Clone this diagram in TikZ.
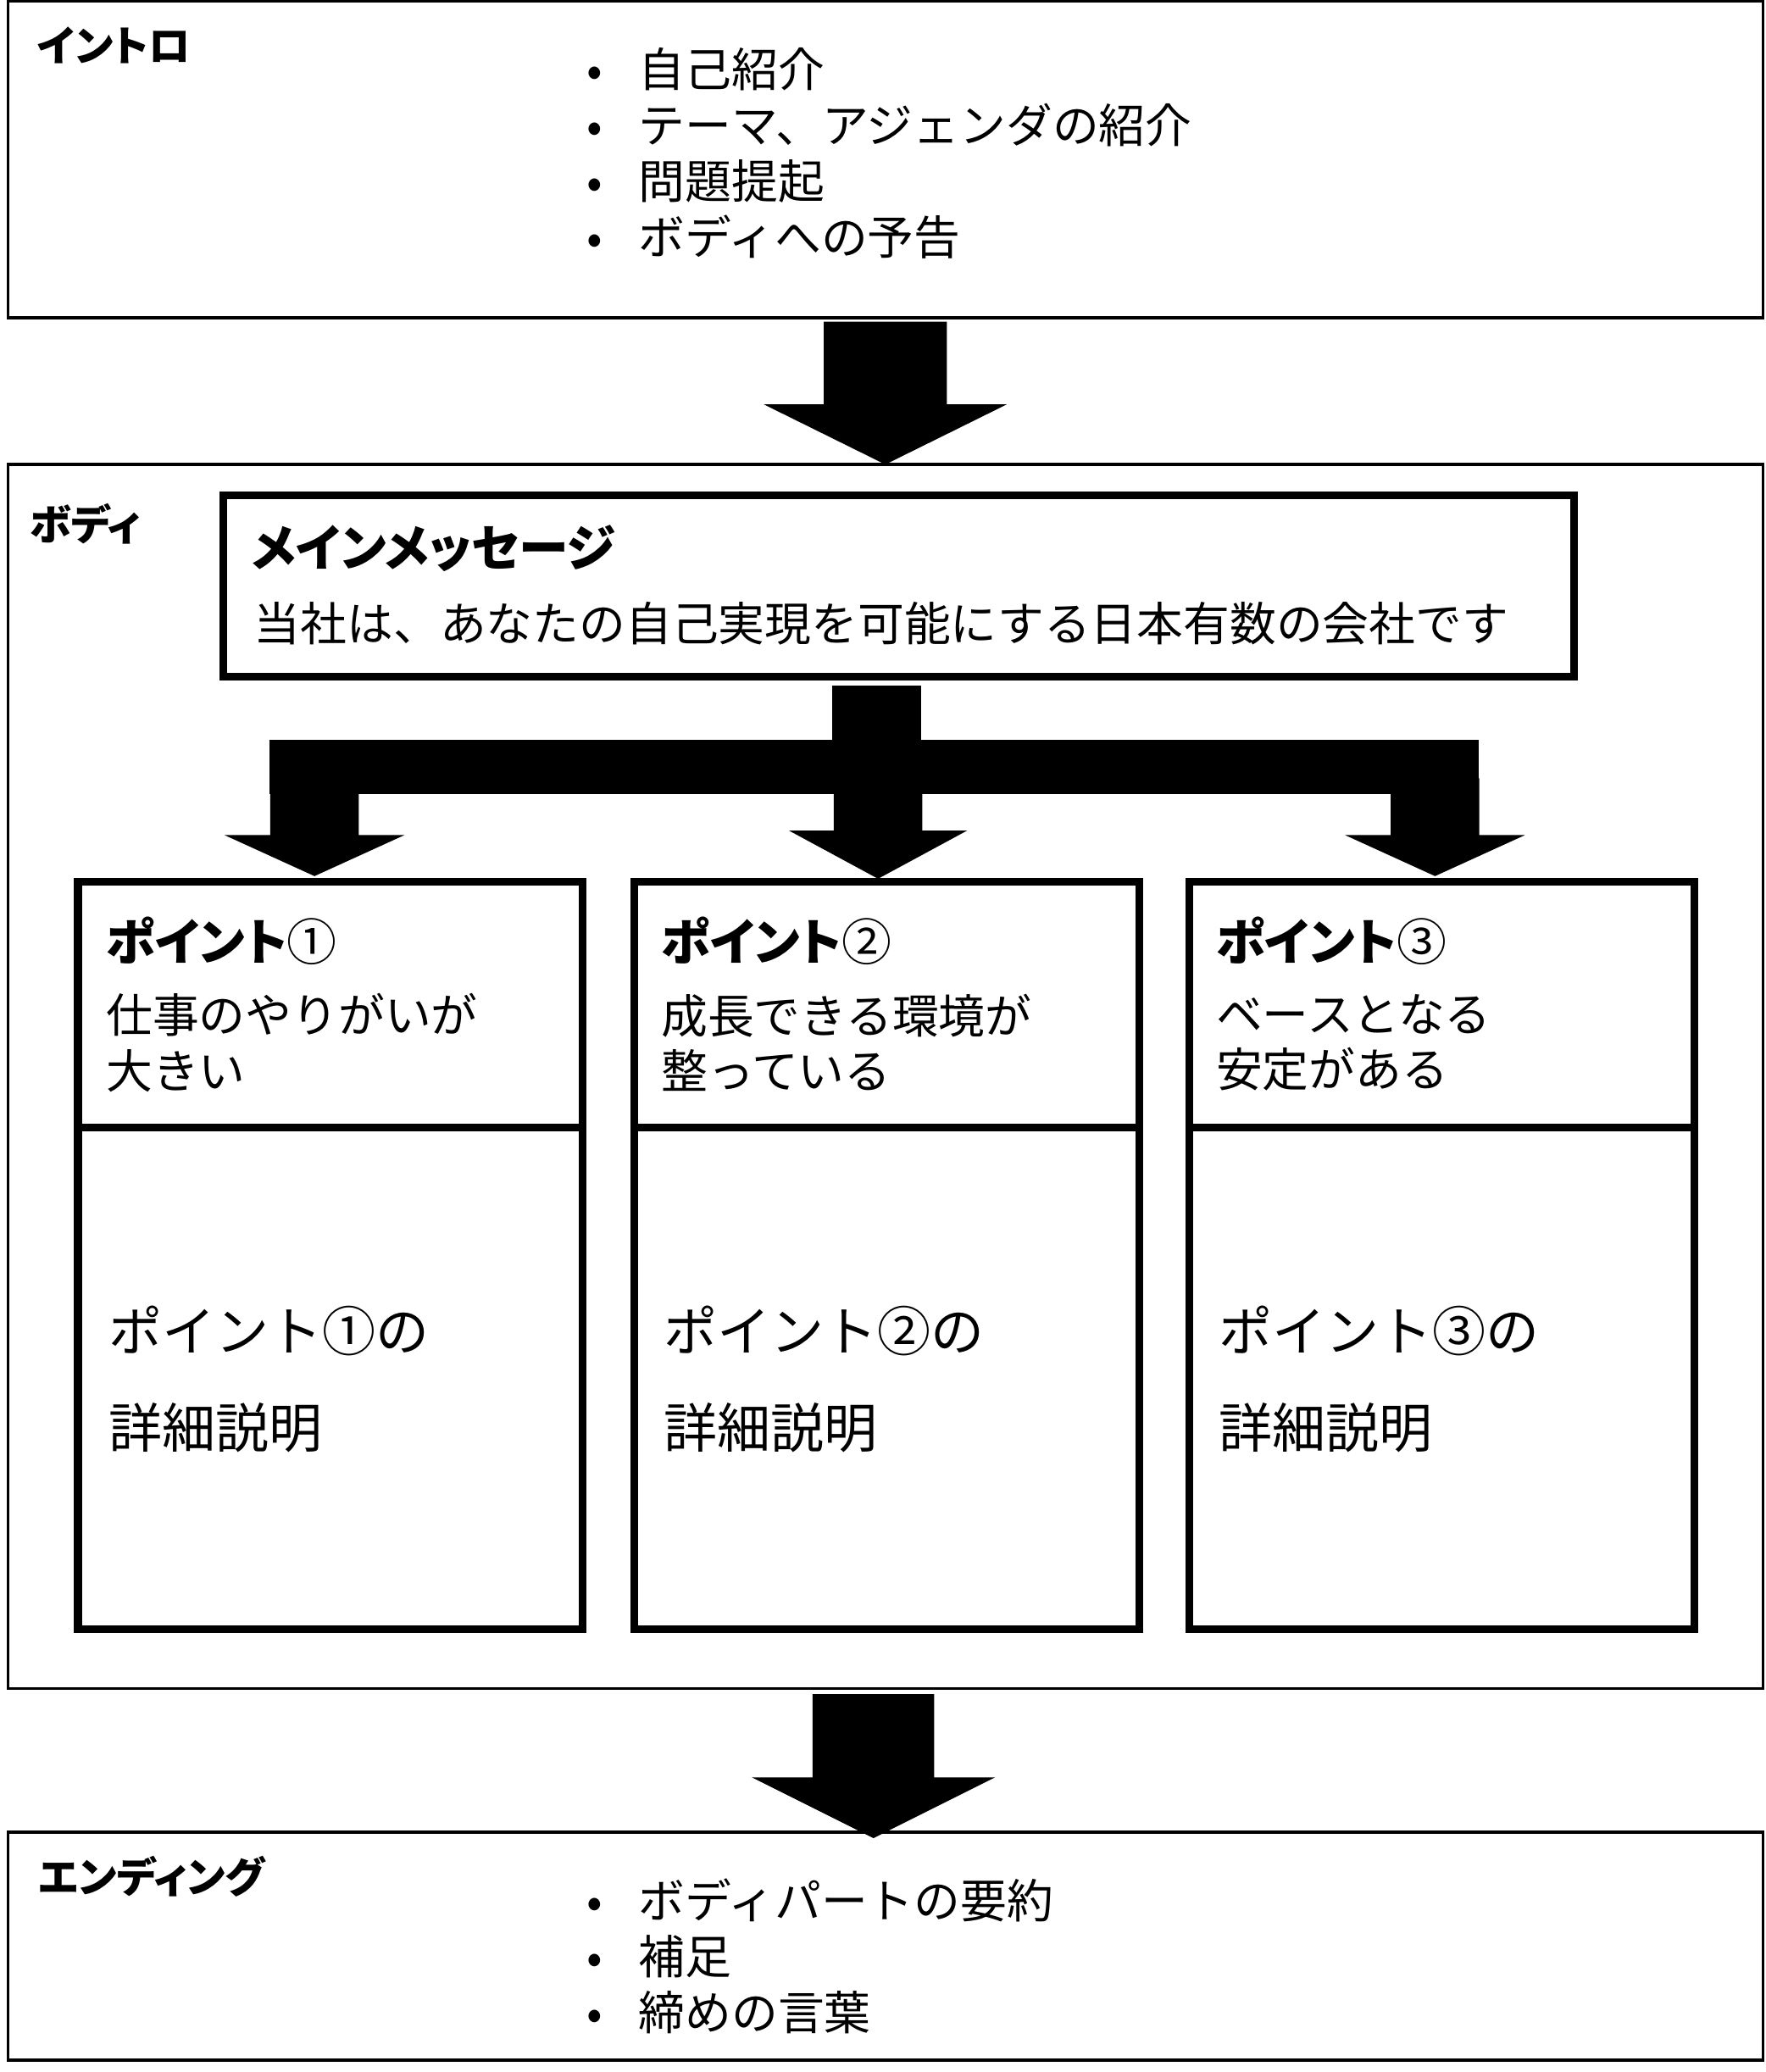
\documentclass[tikz,border=0pt]{standalone}
\usepackage{fontspec}
\setmainfont{Noto Sans CJK JP}
\newfontfamily\midasi[RawFeature=+palt]{Noto Sans CJK JP}
\usetikzlibrary{positioning,calc}

% ブロック矢印: 始点, 先端, 軸の半幅, 頭の半幅, 頭の長さ
\newcommand{\blockarrow}[5]{%
  \fill ($(#1)+(-#3,0)$) -- ($(#2)+(-#3,#5)$) -- ($(#2)+(-#4,#5)$) -- (#2)
    -- ($(#2)+(#4,#5)$) -- ($(#2)+(#3,#5)$) -- ($(#1)+(#3,0)$) -- cycle;}
\newcommand{\bul}{\llap{\makebox[1.32cm][c]{•}}}

\begin{document}
\begin{tikzpicture}[
  secbox/.style={draw, line width=1.2pt, inner sep=0pt, outer sep=0pt, minimum width=26.56cm},
  thickbox/.style={draw, line width=3.3pt, inner sep=0pt, outer sep=0pt},
  ptbox/.style={thickbox, minimum width=7.64cm},
  seclabel/.style={anchor=west, inner sep=0pt, font=\midasi\bfseries\fontsize{18}{20}\selectfont},
  headlabel/.style={anchor=west, inner sep=0pt, font=\midasi\bfseries\fontsize{21.5}{26}\selectfont},
  bodytext/.style={anchor=west, inner sep=0pt, align=left, font=\fontsize{20}{24}\selectfont},
  detail/.style={anchor=west, inner sep=0pt, align=left, font=\fontsize{23}{41.5}\selectfont}]
  \useasboundingbox (0,0) rectangle (26.72,-31.36);

  % 三つの枠
  \node[secbox, minimum height=4.79cm] (intro) at (13.40,-2.415) {};
  \node[secbox, minimum height=18.53cm] (body) at (13.40,-16.295) {};
  \node[secbox, minimum height=3.45cm] (ending) at (13.40,-29.455) {};

  % イントロ
  \node[seclabel] (introlbl) at (0.56,-0.68) {イントロ};
  \node[bodytext] (introlist) at (9.66,-2.32)
    {\bul 自己紹介\\ \bul テーマ、アジェンダの紹介\\ \bul 問題提起\\ \bul ボディへの予告};

  % ボディ
  \node[seclabel] (bodylbl) at (0.44,-7.93) {ボディ};
  \node[thickbox, minimum width=20.44cm, minimum height=2.74cm] (main) at (13.60,-8.87) {};
  \node[headlabel] (mainlbl) at (3.80,-8.30) {メインメッセージ};
  \node[bodytext] (maintext) at (3.84,-9.44) {当社は、あなたの自己実現を可能にする日本有数の会社です};

  % ポイントの枠
  \node[ptbox, minimum height=3.72cm] (p1h) at (5.00,-15.20) {};
  \node[ptbox, minimum height=7.60cm, below=0pt of p1h] (p1d) {};
  \node[ptbox, minimum height=3.72cm, right=0.78cm of p1h] (p2h) {};
  \node[ptbox, minimum height=7.60cm, below=0pt of p2h] (p2d) {};
  \node[ptbox, minimum height=3.72cm, right=0.76cm of p2h] (p3h) {};
  \node[ptbox, minimum height=7.60cm, below=0pt of p3h] (p3d) {};

  \node[headlabel] (p1t) at (1.60,-14.24) {ポイント{\mdseries ①}};
  \node[bodytext] (p1s) at (1.60,-15.78) {仕事のやりがいが\\大きい};
  \node[detail] (p1x) at (1.64,-20.87) {ポイント①の\\詳細説明};
  \node[headlabel] (p2t) at (10.00,-14.24) {ポイント{\mdseries ②}};
  \node[bodytext] (p2s) at (10.00,-15.78) {成長できる環境が\\整っている};
  \node[detail] (p2x) at (10.04,-20.87) {ポイント②の\\詳細説明};
  \node[headlabel] (p3t) at (18.40,-14.24) {ポイント{\mdseries ③}};
  \node[bodytext] (p3s) at (18.40,-15.78) {ベースとなる\\安定がある};
  \node[detail] (p3x) at (18.44,-20.87) {ポイント③の\\詳細説明};

  % エンディング
  \node[seclabel] (endlbl) at (0.58,-28.40) {エンディング};
  \node[bodytext] (endlist) at (9.66,-29.61)
    {\bul ボディパートの要約\\ \bul 補足\\ \bul 締めの言葉};

  % 矢印
  \coordinate (a1top) at ($(intro.south)+(0,-0.06)$);
  \blockarrow{a1top}{body.north}{0.93}{1.84}{0.91}
  \coordinate (a2top) at ($(body.south)+(-0.18,-0.08)$);
  \coordinate (a2tip) at ($(ending.north)+(-0.18,-0.09)$);
  \blockarrow{a2top}{a2tip}{0.92}{1.84}{0.92}

  % 分岐
  \coordinate (split) at ($(main.south)+(-0.33,-0.14)$);
  \coordinate (barmid) at ($(split)+(0,-1.4)$);
  \coordinate (tipA) at ($(p1h.north)+(-0.24,0.08)$);
  \coordinate (tipB) at ($(p2h.north)+(-0.13,0.04)$);
  \coordinate (tipC) at ($(p3h.north)+(-0.10,0.08)$);
  \fill ($(split)+(-0.67,0)$) rectangle ($(split)+(0.67,-0.82)$);
  \fill ($(split)+(-9.19,-0.82)$) rectangle ($(split)+(9.11,-1.64)$);
  \blockarrow{tipA |- barmid}{tipA}{0.67}{1.36}{0.62}
  \blockarrow{tipB |- barmid}{tipB}{0.67}{1.35}{0.73}
  \blockarrow{tipC |- barmid}{tipC}{0.67}{1.36}{0.62}
\end{tikzpicture}
\end{document}
